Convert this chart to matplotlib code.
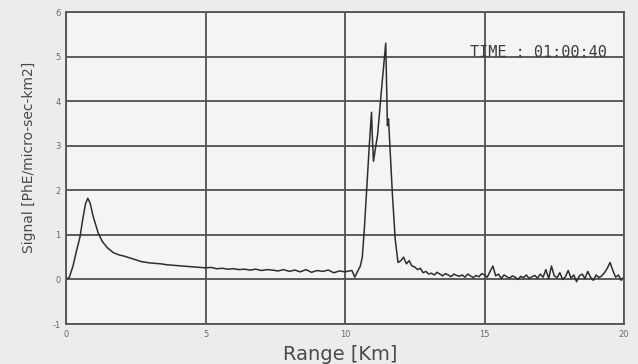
import numpy as np
import matplotlib
matplotlib.use("Agg")
import matplotlib.pyplot as plt

# --- data ---
rise_x = [0.0, 0.12, 0.25, 0.38, 0.5, 0.6, 0.7, 0.78, 0.86, 0.98, 1.15, 1.3, 1.5, 1.7, 1.9, 2.1, 2.4, 2.7]
rise_y = [0.0, 0.05, 0.3, 0.65, 0.95, 1.35, 1.7, 1.82, 1.72, 1.4, 1.05, 0.85, 0.7, 0.6, 0.55, 0.52, 0.46, 0.4]

mid_x = [3.0, 3.2, 3.4, 3.6, 3.8, 4.0, 4.2, 4.4, 4.6, 4.8, 5.0, 5.2, 5.4, 5.6, 5.8, 6.0, 6.2, 6.4, 6.6,
         6.8, 7.0, 7.2, 7.4, 7.6, 7.8, 8.0, 8.2, 8.4, 8.6, 8.8, 9.0, 9.2, 9.4, 9.6, 9.8, 10.0]
mid_y = [0.37, 0.36, 0.35, 0.33, 0.32, 0.31, 0.30, 0.29, 0.28, 0.27, 0.26, 0.27, 0.24, 0.25, 0.23, 0.24,
         0.22, 0.23, 0.21, 0.23, 0.20, 0.22, 0.21, 0.19, 0.22, 0.18, 0.21, 0.17, 0.22, 0.16, 0.20, 0.18,
         0.21, 0.15, 0.19, 0.17]

peak_x = [10.15, 10.25, 10.35, 10.45, 10.55, 10.62, 10.7, 10.78, 10.87, 10.95, 10.98, 11.02, 11.08,
          11.17, 11.3, 11.46, 11.52, 11.56, 11.7, 11.8, 11.9, 12.0, 12.1, 12.2, 12.3, 12.4]
peak_y = [0.19, 0.2, 0.05, 0.18, 0.3, 0.5, 1.2, 2.05, 3.0, 3.75, 3.2, 2.65, 2.9,
          3.25, 4.2, 5.3, 3.45, 3.6, 1.9, 0.9, 0.38, 0.42, 0.5, 0.35, 0.42, 0.3]

tail_x = [round(12.5 + 0.1 * i, 1) for i in range(76)]
tail_y = [0.28, 0.22, 0.25, 0.15, 0.18, 0.12,
          0.14, 0.10, 0.16, 0.12, 0.08, 0.13, 0.10, 0.06, 0.12, 0.09,
          0.07, 0.10, 0.05, 0.12, 0.08, 0.04, 0.09, 0.06, 0.13, 0.10,
          0.05, 0.18, 0.30, 0.08, 0.12, 0.02, 0.10, 0.06, 0.03, 0.08,
          0.05, 0.00, 0.07, 0.04, 0.10, 0.02, 0.06, 0.09, 0.03, 0.12,
          0.05, 0.22, 0.02, 0.30, 0.08, 0.04, 0.15, 0.00, 0.06, 0.20,
          0.03, 0.10, -0.05, 0.08, 0.12, 0.02, 0.18, 0.05, -0.02, 0.10,
          0.04, 0.08, 0.15, 0.25, 0.38, 0.20, 0.05, 0.10, -0.02, 0.06]

x_ticks = [0, 5, 10, 15, 20]
y_ticks = [-1, 0, 1, 2, 3, 4, 5, 6]

range_km = rise_x + mid_x + peak_x + tail_x
signal = rise_y + mid_y + peak_y + tail_y

W, H = 638, 364
fig = plt.figure(figsize=(W / 100, H / 100), dpi=100, facecolor="#ececec")
ax = fig.add_axes([66 / W, 1 - 324 / H, (624 - 66) / W, (324 - 12) / H])
ax.set_facecolor("#f4f4f4")

ax.plot(range_km, signal, color="#2e2e2e", lw=1.1)

ax.set_xlim(0, 20)
ax.set_ylim(-1, 6)
ax.set_xticks(x_ticks)
ax.set_yticks(y_ticks)
ax.set_xticklabels([str(t) for t in x_ticks])
ax.set_yticklabels([str(t) for t in y_ticks])
ax.grid(True, color="#505050", lw=1.3)
ax.set_axisbelow(True)
for s in ax.spines.values():
    s.set_color("#555555")
    s.set_linewidth(1.3)
ax.tick_params(length=0, labelsize=6, colors="#6a6a6a", pad=4)

fig.text(340 / W, 1 - 360 / H, "Range [Km]", ha="center", va="baseline",
         fontsize=14, color="#4a4a4a")
fig.text(29 / W, 1 - 157 / H, "Signal [PhE/micro-sec-km2]", ha="center", va="center",
         rotation=90, fontsize=10, color="#4a4a4a")

fig.text(607 / W, 1 - 57 / H, "TIME : 01:00:40", ha="right", va="baseline",
         fontsize=11, family="DejaVu Sans Mono", color="#3c3c3c")

fig.savefig("out.png", dpi=100, facecolor=fig.get_facecolor())
